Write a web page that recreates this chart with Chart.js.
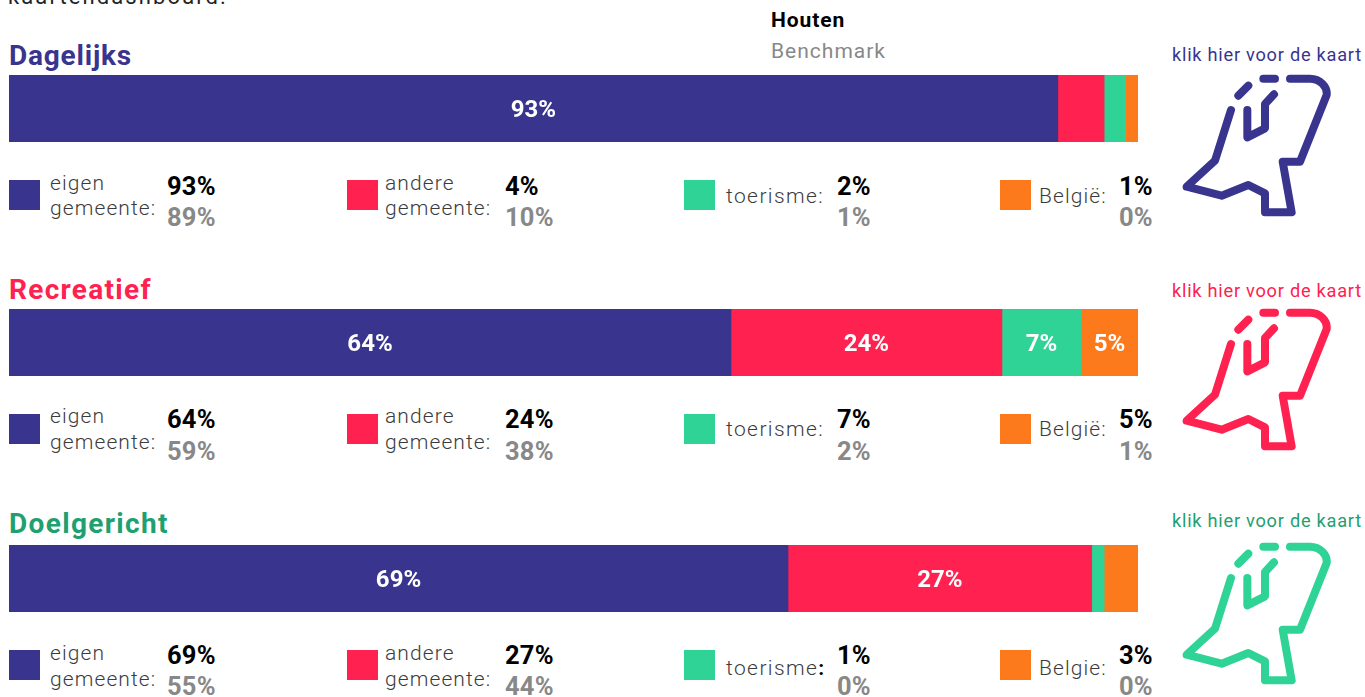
<!DOCTYPE html>
<html lang="nl"><head><meta charset="utf-8">
<style>
html,body{margin:0;padding:0;width:1365px;height:697px;overflow:hidden;background:#fff;font-family:Roboto,sans-serif}
.t{position:absolute;white-space:nowrap;line-height:1;transform:translateY(-50%)}
canvas{position:absolute}
svg{position:absolute}
</style>
<script src="https://cdn.jsdelivr.net/npm/chart.js@4"></script>
</head><body>
<script>
const sections = ["Dagelijks", "Recreatief", "Doelgericht"];
const seriesNames = ["eigen gemeente", "andere gemeente", "toerisme", "België"];
const eigenGemeente = [92.9, 63.95, 69];
const andereGemeente = [4.1, 24, 26.9];
const toerisme = [1.9, 7, 1.1];
const belgie = [1.1, 5.05, 3];
const houtenLabels = [["93%","4%","2%","1%"],["64%","24%","7%","5%"],["69%","27%","1%","3%"]];
const benchmarkLabels = [["89%","10%","1%","0%"],["59%","38%","2%","1%"],["55%","44%","0%","0%"]];
const belgiumText = ["België:", "België:", "Belgie:"];
const seriesColors = ["#39358f", "#ff214f", "#2fd396", "#fd7a1c"];
const titleColors = ["#39358f", "#ff214f", "#1fa070"];
const iconColors = ["#39358f", "#ff214f", "#2fd396"];

const barTop = [75, 309, 545];
const titleY = [56, 290, 524];
const titleSpacing = [0.8, 1.3, 1.35];
const linkY = [55, 291, 521];
const iconTop = [30, 264, 498];
const swatchTop = [180, 414, 650];
const line1Y = [183, 416, 653];
const line2Y = [208, 442, 679];
const oneLineY = [196, 429, 668];
const valueY = [187, 420, 656];
const benchY = [218, 452, 687];

function text(s, x, y, size, weight, color, extra) {
  const d = document.createElement('div');
  d.className = 't';
  d.textContent = s;
  d.style.cssText = `left:${x}px;top:${y}px;font-size:${size}px;font-weight:${weight};color:${color};` + (extra || '');
  document.body.appendChild(d);
  return d;
}

const barLabels = {
  id: 'barLabels',
  afterDatasetsDraw(chart) {
    const c = chart.ctx;
    c.save();
    c.fillStyle = '#fff';
    c.font = '700 24px Roboto';
    c.textAlign = 'center';
    c.textBaseline = 'middle';
    chart.data.datasets.forEach((ds, i) => {
      if (ds.data[0] < 5) return;
      const el = chart.getDatasetMeta(i).data[0];
      c.fillText(Math.round(ds.data[0]) + '%', (el.x + el.base) / 2, el.y + 2);
    });
    c.restore();
  }
};

text('kaartendashboard.', 8, -3, 22, 400, '#222', 'letter-spacing:2.1px');
text('Houten', 771, 20, 21, 700, '#000', 'letter-spacing:.9px');
text('Benchmark', 771, 51, 21, 400, '#888', 'letter-spacing:1px');

sections.forEach((name, s) => {
  text(name, 9, titleY[s], 28, 700, titleColors[s], `letter-spacing:${titleSpacing[s]}px`);
  text('klik hier voor de kaart', 1172, linkY[s], 18.2, 400, titleColors[s], 'letter-spacing:.75px');

  const cv = document.createElement('canvas');
  cv.style.left = '9px';
  cv.style.top = barTop[s] + 'px';
  cv.width = 1129; cv.height = 67;
  document.body.appendChild(cv);
  const vals = [eigenGemeente[s], andereGemeente[s], toerisme[s], belgie[s]];
  new Chart(cv, {
    type: 'bar',
    data: {
      labels: [name],
      datasets: seriesNames.map((n, i) => ({
        label: n, data: [vals[i]], backgroundColor: seriesColors[i],
        barPercentage: 1, categoryPercentage: 1, borderWidth: 0
      }))
    },
    options: {
      indexAxis: 'y', responsive: false, animation: false,
      layout: { padding: 0 },
      plugins: { legend: { display: false }, tooltip: { enabled: false } },
      scales: {
        x: { display: false, stacked: true, min: 0, max: 100 },
        y: { display: false, stacked: true }
      }
    },
    plugins: [barLabels]
  });

  // legend
  const swatchX = [9, 347, 684, 1000];
  const valX = [167, 505, 837, 1119];
  const grey = '#3c3c3c';
  const ls = 'letter-spacing:1.1px';
  swatchX.forEach((x, i) => {
    const b = document.createElement('div');
    b.style.cssText = `position:absolute;left:${x}px;top:${swatchTop[s]}px;width:31px;height:30px;background:${seriesColors[i]}`;
    document.body.appendChild(b);
    text(houtenLabels[s][i], valX[i], valueY[s], 25.5, 700, '#000', 'letter-spacing:.2px');
    text(benchmarkLabels[s][i], valX[i], benchY[s], 25.5, 700, '#888', 'letter-spacing:.2px');
  });
  text('eigen', 50, line1Y[s], 21, 300, grey, ls);
  text('gemeente:', 50, line2Y[s], 21, 300, grey, ls);
  text('andere', 385, line1Y[s], 21, 300, grey, ls);
  text('gemeente:', 385, line2Y[s], 21, 300, grey, ls);
  const toer = text('toerisme', 726, oneLineY[s], 21, 300, grey, 'letter-spacing:1.4px');
  const colon = document.createElement('span');
  colon.textContent = ':';
  if (s === 2) { colon.style.fontWeight = 700; colon.style.color = '#000'; }
  toer.appendChild(colon);
  text(belgiumText[s], 1039, oneLineY[s], 21, 300, grey, ls);

  // map icon
  const svg = document.createElementNS('http://www.w3.org/2000/svg', 'svg');
  svg.setAttribute('width', 215); svg.setAttribute('height', 200);
  svg.setAttribute('viewBox', '0 0 645 600');
  svg.style.left = '1150px'; svg.style.top = iconTop[s] + 'px';
  ['M420 146H480C510 146 533 170 530 195L450 395H398L425 547H345V490L295 465L215 497L110 470L195 392L243 240',
   'M265 197L295 167', 'M340 146H375', 'M372 193L345 222V295L292 322V240'].forEach(d => {
    const p = document.createElementNS('http://www.w3.org/2000/svg', 'path');
    p.setAttribute('d', d);
    p.setAttribute('fill', 'none');
    p.setAttribute('stroke', iconColors[s]);
    p.setAttribute('stroke-width', 24);
    p.setAttribute('stroke-linecap', 'round');
    p.setAttribute('stroke-linejoin', 'round');
    svg.appendChild(p);
  });
  document.body.appendChild(svg);
});
</script>
</body></html>
